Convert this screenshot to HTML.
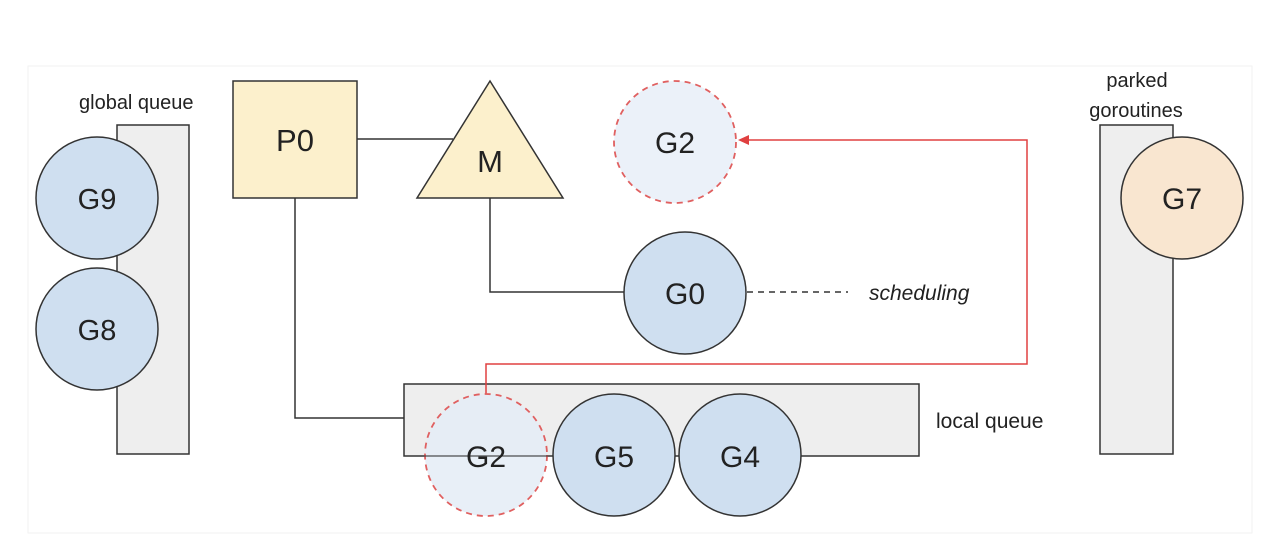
<!DOCTYPE html>
<html><head><meta charset="utf-8"><style>
html,body{margin:0;padding:0;background:#fff;width:1280px;height:560px;overflow:hidden}
svg{display:block}
text{font-family:"Liberation Sans",sans-serif;fill:#222}
</style></head><body>
<svg width="1280" height="560" viewBox="0 0 1280 560">
<rect x="28" y="66" width="1224" height="467" fill="#fff" stroke="#f2f2f2" stroke-width="1"/>
<!-- global queue -->
<rect x="117" y="125" width="72" height="329" fill="#eeeeee" stroke="#333" stroke-width="1.5"/>
<text x="79" y="109" font-size="20">global queue</text>
<circle cx="97" cy="198" r="61" fill="#cfdff0" stroke="#333" stroke-width="1.5"/>
<text x="97" y="209" font-size="29" text-anchor="middle">G9</text>
<circle cx="97" cy="329" r="61" fill="#cfdff0" stroke="#333" stroke-width="1.5"/>
<text x="97" y="340" font-size="29" text-anchor="middle">G8</text>
<!-- connectors -->
<path d="M357 139 H453" stroke="#333" stroke-width="1.5" fill="none"/>
<path d="M295 198 V418 H404" stroke="#333" stroke-width="1.5" fill="none"/>
<path d="M490 198 V292 H624" stroke="#333" stroke-width="1.5" fill="none"/>
<path d="M747 292 H848" stroke="#333" stroke-width="1.5" stroke-dasharray="6,5" fill="none"/>
<text x="869" y="300" font-size="21" font-style="italic">scheduling</text>
<!-- P0 -->
<rect x="233" y="81" width="124" height="117" fill="#fcf0cc" stroke="#333" stroke-width="1.5"/>
<text x="295" y="151" font-size="31" text-anchor="middle">P0</text>
<!-- M -->
<polygon points="490,81 417,198 563,198" fill="#fcf0cc" stroke="#333" stroke-width="1.5"/>
<text x="490" y="172" font-size="31" text-anchor="middle">M</text>
<!-- G2 top -->
<circle cx="675" cy="142" r="61" fill="#ebf1f9" stroke="#e06060" stroke-width="1.8" stroke-dasharray="6,5"/>
<text x="675" y="153" font-size="30" text-anchor="middle">G2</text>
<!-- G0 -->
<circle cx="685" cy="293" r="61" fill="#cfdff0" stroke="#333" stroke-width="1.5"/>
<text x="685" y="304" font-size="30" text-anchor="middle">G0</text>
<!-- local queue -->
<rect x="404" y="384" width="515" height="72" fill="#eeeeee" stroke="#333" stroke-width="1.5"/>
<text x="936" y="428" font-size="21">local queue</text>
<!-- red path -->
<path d="M486 394 V364 H1027 V140 H748" stroke="#e04040" stroke-width="1.5" fill="none"/>
<polygon points="738,140 749,135 749,145" fill="#e04040"/>
<!-- G2 bottom -->
<circle cx="486" cy="455" r="61" fill="#e4ecf6" fill-opacity="0.85" stroke="#e06060" stroke-width="1.8" stroke-dasharray="6,5"/>
<path d="M404 456 H554" stroke="#333" stroke-width="1"/>
<text x="486" y="467" font-size="30" text-anchor="middle">G2</text>
<circle cx="614" cy="455" r="61" fill="#cfdff0" stroke="#333" stroke-width="1.5"/>
<text x="614" y="467" font-size="30" text-anchor="middle">G5</text>
<circle cx="740" cy="455" r="61" fill="#cfdff0" stroke="#333" stroke-width="1.5"/>
<text x="740" y="467" font-size="30" text-anchor="middle">G4</text>
<!-- parked -->
<rect x="1100" y="125" width="73" height="329" fill="#eeeeee" stroke="#333" stroke-width="1.5"/>
<text x="1137" y="87" font-size="20" text-anchor="middle">parked</text>
<text x="1136" y="117" font-size="20" text-anchor="middle">goroutines</text>
<circle cx="1182" cy="198" r="61" fill="#f9e6d0" stroke="#333" stroke-width="1.5"/>
<text x="1182" y="209" font-size="30" text-anchor="middle">G7</text>
</svg>
</body></html>
